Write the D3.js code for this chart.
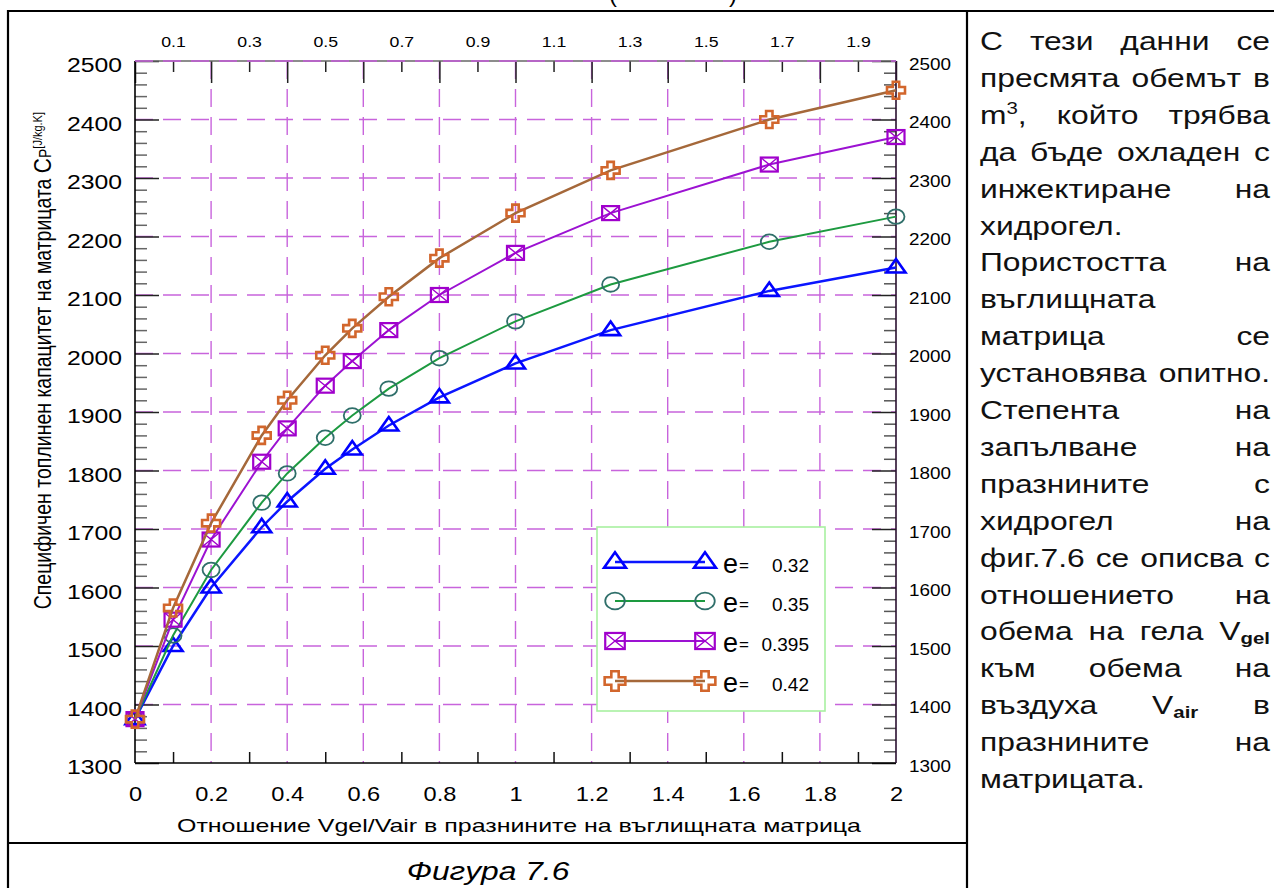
<!DOCTYPE html>
<html>
<head>
<meta charset="utf-8">
<script src="https://cdn.jsdelivr.net/npm/d3@7"></script>
<style>
  html, body { margin: 0; padding: 0; background: #fff; overflow: hidden; }
  svg { display: block; }
</style>
</head>
<body>
<svg id="fig" width="1274" height="888"></svg>
<script>
// ---- data: Vgel/Vair ratio and specific heat capacity Cp [J/kg.K] ----
const ratio    = [0, 0.1, 0.2, 0.333, 0.4, 0.5, 0.571, 0.667, 0.8, 1, 1.25, 1.667, 2];
const cpE032   = [1375, 1500, 1600, 1703, 1747, 1803, 1836, 1877, 1925, 1983, 2040, 2107, 2147];
const cpE035   = [1375, 1518, 1630, 1745, 1795, 1856, 1894, 1940, 1992, 2055, 2118, 2191, 2234];
const cpE0395  = [1375, 1545, 1682, 1815, 1872, 1945, 1987, 2040, 2100, 2172, 2240, 2323, 2370];
const cpE042   = [1375, 1565, 1710, 1860, 1920, 1997, 2043, 2097, 2163, 2240, 2313, 2400, 2450];
const porosity = ["0.32", "0.35", "0.395", "0.42"];

// ---- tick values / labels ----
const bottomTicks  = [0, 0.2, 0.4, 0.6, 0.8, 1, 1.2, 1.4, 1.6, 1.8, 2];
const bottomLabels = ["0", "0.2", "0.4", "0.6", "0.8", "1", "1.2", "1.4", "1.6", "1.8", "2"];
const topTicks     = [0.1, 0.3, 0.5, 0.7, 0.9, 1.1, 1.3, 1.5, 1.7, 1.9];
const topLabels    = ["0.1", "0.3", "0.5", "0.7", "0.9", "1.1", "1.3", "1.5", "1.7", "1.9"];
const yTicks       = [1300, 1400, 1500, 1600, 1700, 1800, 1900, 2000, 2100, 2200, 2300, 2400, 2500];
const yLabels      = ["1300", "1400", "1500", "1600", "1700", "1800", "1900", "2000", "2100", "2200", "2300", "2400", "2500"];

const xTitle   = "Отношение Vgel/Vair в празнините на въглищната матрица";
const yTitle   = "Специфичен топлинен капацитет на матрицата";
const caption  = "Фигура 7.6";

// side paragraph, one entry per printed line; 1 = justified
const textLines = [
  ["С тези данни се", 1],
  ["пресмята обемът в", 1],
  ["m^3, който трябва", 1],
  ["да бъде охладен с", 1],
  ["инжектиране на", 1],
  ["хидрогел.", 0],
  ["Пористостта на", 1],
  ["въглищната", 0],
  ["матрица се", 1],
  ["установява опитно.", 1],
  ["Степента на", 1],
  ["запълване на", 1],
  ["празнините с", 1],
  ["хидрогел на", 1],
  ["фиг.7.6 се описва с", 1],
  ["отношението на", 1],
  ["обема на гела V_gel", 1],
  ["към обема на", 1],
  ["въздуха V_air в", 1],
  ["празнините на", 1],
  ["матрицата.", 0]
];

// ---- layout ----
const FONT = "'Liberation Sans', Arial, Helvetica, sans-serif";
const SX = 1.18;                      // glyph widening used by the chart texts
const X0 = 135, X1 = 896, Y0 = 763, Y1 = 61;
const GRID = "#c864dc";
const DASH = "18,10";

const svg = d3.select("#fig").attr("font-family", FONT);
svg.append("rect").attr("width", 1274).attr("height", 888).attr("fill", "#fff");

const x = d3.scaleLinear().domain([0, 2]).range([X0, X1]);
const y = d3.scaleLinear().domain([1300, 2500]).range([Y0, Y1]);

function widen(sel, k) {
  sel.each(function () {
    const t = d3.select(this);
    const x0 = +t.attr("x") || 0;
    t.attr("x", x0 / k).attr("transform", `scale(${k},1)`);
  });
}

// ---- page table rules ----
const rules = svg.append("g").attr("stroke", "#000").attr("stroke-width", 2.2);
rules.append("line").attr("x1", 7).attr("x2", 1274).attr("y1", 11).attr("y2", 11);
rules.append("line").attr("x1", 8).attr("x2", 8).attr("y1", 10).attr("y2", 888);
rules.append("line").attr("x1", 967).attr("x2", 967).attr("y1", 10).attr("y2", 888);
rules.append("line").attr("x1", 7).attr("x2", 967).attr("y1", 843).attr("y2", 843);

// tail of the heading that sits above the table
svg.append("text").attr("x", 609).attr("y", 2).attr("font-size", 24).text("(");
svg.append("text").attr("x", 729).attr("y", 2).attr("font-size", 24).text(")");

// ---- grid ----
const grid = svg.append("g").attr("stroke", GRID).attr("stroke-width", 1.4)
  .attr("stroke-dasharray", DASH).attr("fill", "none");
grid.selectAll("line.v").data(bottomTicks.filter(d => d > 0 && d < 2)).join("line")
  .attr("x1", d => x(d)).attr("x2", d => x(d)).attr("y1", Y1).attr("y2", Y0);
grid.selectAll("line.h").data(yTicks.filter(d => d > 1300)).join("line")
  .attr("x1", X0).attr("x2", X1).attr("y1", d => y(d)).attr("y2", d => y(d));

// ---- axes: ticks ----
const yMinor = d3.range(1300, 2501, 20).filter(v => v % 100 !== 0);
function tickAxis(axis, tr, color, width) {
  const g = svg.append("g").attr("transform", tr).call(axis);
  g.select(".domain").remove();
  g.selectAll(".tick line").attr("stroke", color).attr("stroke-width", width);
  return g;
}
// left (inward)
tickAxis(d3.axisRight(y).tickValues(yTicks).tickSize(24).tickFormat(""), `translate(${X0},0)`, "#222", 1.5);
tickAxis(d3.axisRight(y).tickValues(yMinor).tickSize(12).tickFormat(""), `translate(${X0},0)`, "#666", 1.5);
// right (inward)
tickAxis(d3.axisLeft(y).tickValues(yTicks).tickSize(24).tickFormat(""), `translate(${X1},0)`, "#222", 1.5);
tickAxis(d3.axisLeft(y).tickValues(yMinor).tickSize(12).tickFormat(""), `translate(${X1},0)`, "#555", 1.5);
// top (inward)
tickAxis(d3.axisBottom(x).tickValues(bottomTicks).tickSize(22).tickFormat(""), `translate(0,${Y1})`, "#222", 1.5);
tickAxis(d3.axisBottom(x).tickValues(topTicks).tickSize(11).tickFormat(""), `translate(0,${Y1})`, "#222", 1.5);
// bottom (inward)
tickAxis(d3.axisTop(x).tickValues(topTicks).tickSize(11).tickFormat(""), `translate(0,${Y0})`, "#111", 1.5);

// frame
const frame = svg.append("g").attr("fill", "none").attr("stroke-width", 1.6);
frame.append("line").attr("x1", X0).attr("x2", X1).attr("y1", Y1).attr("y2", Y1).attr("stroke", "#666");
frame.append("line").attr("x1", X0).attr("x2", X1).attr("y1", Y0).attr("y2", Y0).attr("stroke", "#000");
frame.append("line").attr("x1", X0).attr("x2", X0).attr("y1", Y1).attr("y2", Y0).attr("stroke", "#000");
frame.append("line").attr("x1", X1).attr("x2", X1).attr("y1", Y1).attr("y2", Y0).attr("stroke", "#2a1030");
// dashed grid drawn over the top edge
svg.append("line").attr("x1", X0).attr("x2", X1).attr("y1", Y1).attr("y2", Y1)
  .attr("stroke", GRID).attr("stroke-width", 1.4).attr("stroke-dasharray", DASH);

// ---- axes: labels ----
function labelAxis(axis, tr, size, dy) {
  const g = svg.append("g").attr("transform", tr).call(axis);
  g.select(".domain").remove();
  g.selectAll(".tick line").remove();
  const t = g.selectAll("text").attr("font-family", FONT).attr("font-size", size).attr("fill", "#000");
  if (dy !== undefined) t.attr("dy", dy);
  widen(t, SX);
  return g;
}
labelAxis(d3.axisLeft(y).tickValues(yTicks).tickSize(0).tickPadding(13)
  .tickFormat((d, i) => yLabels[i]), `translate(${X0},0)`, 21, "0.52em");
labelAxis(d3.axisRight(y).tickValues(yTicks).tickSize(0).tickPadding(13)
  .tickFormat((d, i) => yLabels[i]), `translate(${X1},0)`, 16, "0.5em");
labelAxis(d3.axisTop(x).tickValues(topTicks).tickSize(0).tickPadding(13.7)
  .tickFormat((d, i) => topLabels[i]), `translate(0,${Y1})`, 15);
labelAxis(d3.axisBottom(x).tickValues(bottomTicks).tickSize(0).tickPadding(23.8)
  .tickFormat((d, i) => bottomLabels[i]), `translate(0,${Y0})`, 20);

// ---- axis titles ----
svg.append("text").attr("x", 177).attr("y", 832).attr("font-size", 18.5)
  .attr("textLength", 684).attr("lengthAdjust", "spacingAndGlyphs").text(xTitle);

const yt = svg.append("text")
  .attr("transform", `translate(51,112) scale(${SX},1) rotate(-90)`)
  .attr("text-anchor", "end").attr("font-size", 19.5);
yt.append("tspan").text(yTitle + "  ");
yt.append("tspan").attr("font-size", 21).text("C");
yt.append("tspan").attr("font-size", 14).text("P");
yt.append("tspan").attr("font-size", 11).attr("dy", -8).text("[J/kg.K]");

// figure caption, centred in its cell
svg.append("g").attr("transform", "translate(488,880) scale(1.27,1)")
  .append("text").attr("text-anchor", "middle").attr("font-size", 25)
  .attr("font-style", "italic").text(caption);

// ---- marker shapes ----
const shapes = {
  triangle(g, c, s) {
    g.append("path").attr("d", `M0,${-8.5 * s}L${9.5 * s},${5 * s}L${-9.5 * s},${5 * s}Z`)
      .attr("fill", "none").attr("stroke", c).attr("stroke-width", 2.6);
  },
  circle(g, c, s) {
    g.append("ellipse").attr("rx", 8.5 * s).attr("ry", 7.3 * s)
      .attr("fill", "none").attr("stroke", c).attr("stroke-width", 1.8);
  },
  xbox(g, c, s) {
    const w = 8.5 * s, h = 7 * s;
    g.append("rect").attr("x", -w).attr("y", -h).attr("width", 2 * w).attr("height", 2 * h)
      .attr("fill", "none").attr("stroke", c).attr("stroke-width", 2.2);
    g.append("path").attr("d", `M${-w},${-h}L${w},${h}M${w},${-h}L${-w},${h}`)
      .attr("stroke", c).attr("stroke-width", 1.4);
  },
  cross(g, c, s) {
    const w = 9 * s, h = 8.5 * s, a = 3.2 * s;
    g.append("path")
      .attr("d", `M${-a},${-h}H${a}V${-a}H${w}V${a}H${a}V${h}H${-a}V${a}H${-w}V${-a}H${-a}Z`)
      .attr("fill", "none").attr("stroke", c).attr("stroke-width", 2.6);
  }
};

const series = [
  { values: cpE032,  line: "#0b16ff", lw: 2.5, marker: "triangle", mc: "#0000ff" },
  { values: cpE035,  line: "#1d9a40", lw: 2.0, marker: "circle",   mc: "#2f6f6a" },
  { values: cpE0395, line: "#9c12d2", lw: 2.0, marker: "xbox",     mc: "#a000cc" },
  { values: cpE042,  line: "#a5683a", lw: 2.5, marker: "cross",    mc: "#d2662c" }
];

const lineGen = d3.line().x(d => x(d[0])).y(d => y(d[1]));
const plot = svg.append("g");
series.forEach(s => {
  const pts = ratio.map((r, i) => [r, s.values[i]]);
  plot.append("path").datum(pts).attr("d", lineGen)
    .attr("fill", "none").attr("stroke", s.line).attr("stroke-width", s.lw);
  pts.forEach(p => {
    const g = plot.append("g").attr("transform", `translate(${x(p[0])},${y(p[1])})`);
    shapes[s.marker](g, s.mc, 1);
  });
});

// ---- legend ----
const lg = svg.append("g");
lg.append("rect").attr("x", 597).attr("y", 527).attr("width", 228).attr("height", 184)
  .attr("fill", "#fff").attr("stroke", "#a8f0a0").attr("stroke-width", 1.6);
const rowY = [562, 601, 641, 681];
series.forEach((s, i) => {
  const ry = rowY[i];
  lg.append("line").attr("x1", 615).attr("x2", 705).attr("y1", ry).attr("y2", ry)
    .attr("stroke", s.line).attr("stroke-width", s.lw);
  [615, 705].forEach(mx => {
    const g = lg.append("g").attr("transform", `translate(${mx},${ry})`);
    shapes[s.marker](g, s.mc, 1.15);
  });
  lg.append("text").attr("x", 723).attr("y", ry + 11).attr("font-size", 27).text("e");
  lg.append("text").attr("x", 739).attr("y", ry + 9).attr("font-size", 17).text("=");
  lg.append("text").attr("x", 809).attr("y", ry + 10).attr("font-size", 19)
    .attr("text-anchor", "end").text(porosity[i]);
});

// ---- side paragraph ----
const TX0 = 980, TX1 = 1270, TSX = 1.2, TFS = 26.5, LINE0 = 50, LSTEP = 36.9;
const side = svg.append("g");
textLines.forEach(([line, just], li) => {
  const by = LINE0 + li * LSTEP;
  const words = line.split(" ");
  const nodes = words.map(w => {
    const g = side.append("g");
    const t = g.append("text").attr("font-size", TFS).attr("transform", `scale(${TSX},1)`)
      .attr("fill", "#111");
    let m;
    if ((m = w.match(/^(.*)\^(\d)(.*)$/))) {
      t.append("tspan").text(m[1]);
      t.append("tspan").attr("font-size", 17).attr("dy", -10).text(m[2]);
      t.append("tspan").attr("dy", 10).text(m[3]);
    } else if ((m = w.match(/^V_(\w+)$/))) {
      t.append("tspan").text("V");
      t.append("tspan").attr("font-size", 17).attr("font-weight", "bold").attr("dy", 4).text(m[1]);
    } else {
      t.text(w);
    }
    return { g, w: t.node().getComputedTextLength() * TSX };
  });
  const total = d3.sum(nodes, d => d.w);
  let gap = 0.28 * TFS * TSX;
  if (just && nodes.length > 1) gap = Math.max(gap, (TX1 - TX0 - total) / (nodes.length - 1));
  let cx = TX0;
  nodes.forEach(n => {
    n.g.attr("transform", `translate(${cx},${by})`);
    cx += n.w + gap;
  });
});
</script>
</body>
</html>
